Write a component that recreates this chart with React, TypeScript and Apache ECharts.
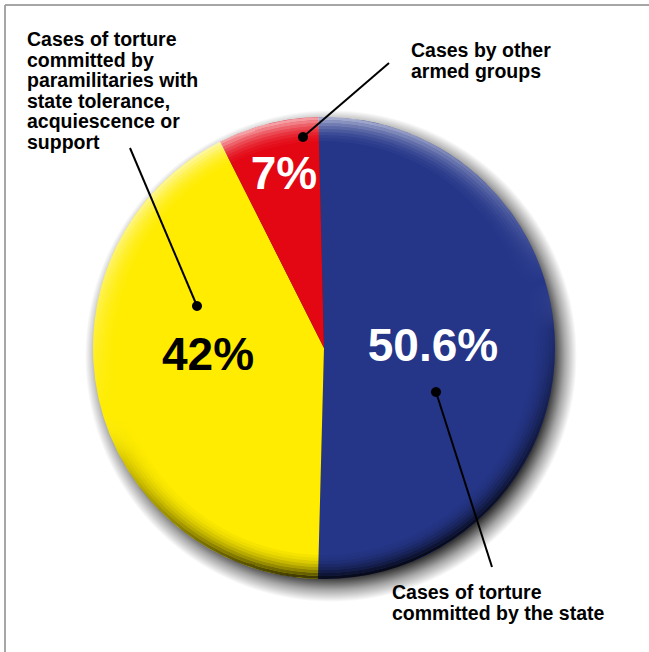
import React, { useEffect, useRef } from "react";
import * as echarts from "echarts";

// ---- data ----
const categories = [
  "Cases of torture committed by the state",
  "Cases of torture committed by paramilitaries with state tolerance, acquiescence or support",
  "Cases by other armed groups",
];
const values = [50.6, 42, 7];
const nameLabels = [
  "Cases of torture\ncommitted by the state",
  "Cases of torture\ncommitted by\nparamilitaries with\nstate tolerance,\nacquiescence or\nsupport",
  "Cases by other\narmed groups",
];

// ---- styles / layout ----
const sliceColors = ["#253689", "#ffec00", "#e30613"];
const pctColors = ["#ffffff", "#000000", "#ffffff"];
const CENTER = [324, 348];
const R = 231;
const SHADOW_CENTER = [331, 356];
const SHADOW_R = 246;
const START_ANGLE = 91.4;
const pctPos = [
  [433, 345],
  [208, 354],
  [284, 173],
];
const namePos = [
  [392, 582],
  [27, 29],
  [411, 40],
];
const leaders = [
  [[436, 392], [492, 567]],
  [[197, 306], [130, 148]],
  [[303, 137], [389, 63]],
];
const FONT = '"Liberation Sans", Arial, sans-serif';
const rimBands = [
  [228, 231, 1],
  [225, 228, 0.8],
  [222, 225, 0.6],
  [219, 222, 0.44],
  [216, 219, 0.3],
  [213, 216, 0.19],
  [210, 213, 0.1],
  [207, 210, 0.05],
];

export default function App() {
  const ref = useRef<HTMLDivElement>(null);
  useEffect(() => {
    if (!ref.current) return;
    const chart = echarts.init(ref.current, undefined, { renderer: "svg" });
    const rimGradient = {
      type: "linear",
      x: 0.35,
      y: 0,
      x2: 0.65,
      y2: 1,
      colorStops: [
        { offset: 0, color: "rgba(255,255,255,0.65)" },
        { offset: 0.4, color: "rgba(255,255,255,0.12)" },
        { offset: 0.5, color: "rgba(255,255,255,0)" },
        { offset: 0.6, color: "rgba(0,0,0,0.15)" },
        { offset: 1, color: "rgba(0,0,0,0.85)" },
      ],
    };
    const shadowGradient = {
      type: "radial",
      x: 0.5,
      y: 0.5,
      r: 0.5,
      colorStops: [
        { offset: 0, color: "rgba(0,0,0,0.85)" },
        { offset: 0.9, color: "rgba(0,0,0,0.8)" },
        { offset: 0.95, color: "rgba(0,0,0,0.35)" },
        { offset: 1, color: "rgba(0,0,0,0)" },
      ],
    };
    const rimSeries = rimBands.map(([r0, r1, op]) => ({
      type: "pie",
      center: CENTER,
      radius: [r0, r1],
      silent: true,
      label: { show: false },
      labelLine: { show: false },
      itemStyle: { color: rimGradient as any, opacity: op },
      data: [{ value: 1, name: "rim" }],
    }));
    const graphics: any[] = [
      { type: "line", shape: { x1: 5, y1: 5, x2: 649, y2: 5 }, style: { stroke: "#a6a6a6", lineWidth: 2 } },
      { type: "line", shape: { x1: 5, y1: 5, x2: 5, y2: 652 }, style: { stroke: "#a6a6a6", lineWidth: 2 } },
    ];
    leaders.forEach(([a, b]) => {
      graphics.push({
        type: "line",
        z: 100,
        shape: { x1: a[0], y1: a[1], x2: b[0], y2: b[1] },
        style: { stroke: "#000", lineWidth: 2 },
      });
      graphics.push({ type: "circle", z: 101, shape: { cx: a[0], cy: a[1], r: 5 }, style: { fill: "#000" } });
    });
    nameLabels.forEach((t, i) => {
      graphics.push({
        type: "text",
        z: 100,
        x: namePos[i][0],
        y: namePos[i][1],
        style: {
          text: t,
          fill: "#000",
          font: `bold 19.5px ${FONT}`,
          lineHeight: 20.5,
          align: "left",
          verticalAlign: "top",
        },
      });
    });
    chart.setOption({
      animation: false,
      backgroundColor: "#ffffff",
      graphic: graphics,
      series: [
        {
          type: "pie",
          center: SHADOW_CENTER,
          radius: [0, SHADOW_R],
          silent: true,
          label: { show: false },
          labelLine: { show: false },
          itemStyle: { color: shadowGradient as any },
          data: [{ value: 1, name: "shadow" }],
        },
        {
          type: "pie",
          center: CENTER,
          radius: [0, R],
          startAngle: START_ANGLE,
          clockwise: true,
          silent: true,
          labelLine: { show: false },
          label: {
            show: true,
            position: "inside",
            formatter: (p: any) => `${p.value}%`,
            fontFamily: FONT,
            fontWeight: "bold",
            fontSize: 46,
          },
          labelLayout: (p: any) => ({
            x: pctPos[p.dataIndex][0],
            y: pctPos[p.dataIndex][1],
            align: "center",
            verticalAlign: "middle",
          }),
          data: values.map((v, i) => ({
            value: v,
            name: categories[i],
            itemStyle: { color: sliceColors[i] },
            label: { color: pctColors[i] },
          })),
        },
        ...rimSeries,
      ],
    });
    return () => chart.dispose();
  }, []);
  return (
    <div
      ref={ref}
      style={{ position: "absolute", left: 0, top: 0, width: 649, height: 652 }}
    />
  );
}
